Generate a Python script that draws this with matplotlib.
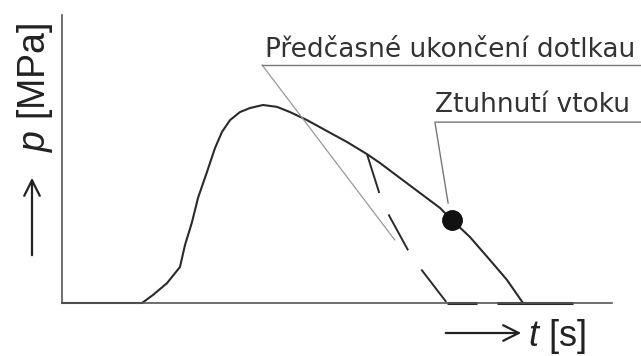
import matplotlib
matplotlib.use("Agg")
import matplotlib.pyplot as plt

plt.rcParams['mathtext.fontset'] = 'custom'
plt.rcParams['mathtext.rm'] = 'Liberation Sans'
plt.rcParams['mathtext.it'] = 'Liberation Sans:italic'

# pressure curve p(t) (t in 0..10, p in 0..100)
t_main = [0, 1.364, 1.455, 1.655, 1.909, 2.145, 2.236, 2.364, 2.473, 2.636,
          2.782, 2.909, 3.055, 3.236, 3.418, 3.655, 3.909, 4.145, 4.455, 4.818,
          5.182, 5.545, 5.782, 6.145, 6.509, 6.873, 7.091, 7.418, 7.782, 8.091,
          8.382]
p_main = [0, 0, 0, 2.8, 6.9, 12.5, 20.1, 28.1, 36.5, 45.5,
          53.8, 59.4, 63.5, 66.3, 67.7, 68.75, 68.1, 66.3, 63.5, 59.7,
          55.9, 51.7, 48.6, 43.4, 38.2, 33.0, 28.8, 22.9, 14.9, 8.0,
          0]

# early end of holding pressure (dashed branch)
t_early = [5.545, 5.78, 5.96, 6.29, 6.51, 7.0]
p_early = [51.7, 37.5, 29.9, 18.4, 12.2, 0]

# thick pieces lying on the time axis
base_segs = [(7.0, 7.55), (7.9, 9.29)]

# tangent / leader lines
t_tangent = [3.64, 6.05]
p_tangent = [82.6, 21.9]
t_lead1 = [3.64, 10.53]
p_lead1 = [82.6, 82.6]
t_lead2 = [7.02, 6.78, 10.53]
p_lead2 = [34.7, 62.8, 62.8]

# gate freeze point
t_gate, p_gate = 7.091, 28.8

label1 = "Předčasné ukončení dotlkau"
label2 = "Ztuhnutí vtoku"

W, H = 641, 356
fig = plt.figure(figsize=(W / 100, H / 100), dpi=100)
ax = fig.add_axes([62 / W, 53 / H, 550 / W, 288 / H])
ax.set_xlim(0, 10)
ax.set_ylim(0, 100)
for s in ['top', 'right']:
    ax.spines[s].set_visible(False)
for s in ['left', 'bottom']:
    ax.spines[s].set_color('#555555')
    ax.spines[s].set_linewidth(1.2)
ax.set_xticks([])
ax.set_yticks([])

dark = '#2a2a2a'
ax.plot(t_main, p_main, color=dark, lw=1.5, solid_joinstyle='round', clip_on=False)
ax.plot(t_early, p_early, color=dark, lw=1.4, dashes=(21, 12), clip_on=False)
for a, b in base_segs:
    ax.plot([a, b], [0, 0], color=dark, lw=2.2, solid_capstyle='butt', clip_on=False)

ax.plot(t_tangent, p_tangent, color='#999999', lw=0.9, clip_on=False)
ax.plot(t_lead1, p_lead1, color='#777777', lw=1.0, clip_on=False)
ax.plot(t_lead2, p_lead2, color='#777777', lw=1.0, clip_on=False)
ax.plot([t_gate], [p_gate], 'o', color='#111111', ms=14, clip_on=False)

ax.text(3.69, 85.4, label1, fontsize=19, color='#333333', va='baseline', ha='left')
ax.text(6.78, 66.3, label2, fontsize=19, color='#333333', va='baseline', ha='left')

# axis labels with arrows
fig.text(35 / W, 1 - 87 / H, r'$p$ [MPa]', rotation=90, ha='center', va='center',
         fontsize=27, family='Liberation Sans', color='#222222')
ax.annotate('', xy=(32 / W, 1 - 175 / H), xytext=(32 / W, 1 - 258 / H),
            xycoords='figure fraction', textcoords='figure fraction',
            arrowprops=dict(arrowstyle='->', lw=1.6, color='#222222', mutation_scale=28))
fig.text(528 / W, 1 - 336 / H, r'$t$ [s]', ha='left', va='center',
         fontsize=26, family='Liberation Sans', color='#222222')
ax.annotate('', xy=(524 / W, 1 - 333 / H), xytext=(443 / W, 1 - 333 / H),
            xycoords='figure fraction', textcoords='figure fraction',
            arrowprops=dict(arrowstyle='->', lw=1.6, color='#222222', mutation_scale=28))

fig.savefig('out.png', dpi=100)
